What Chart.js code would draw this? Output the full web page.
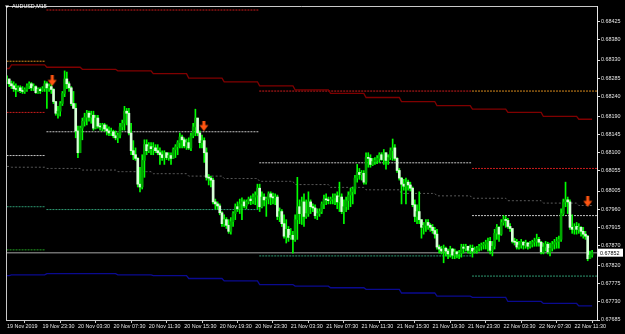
<!DOCTYPE html>
<html>
<head>
<meta charset="utf-8">
<title>AUDUSD,M15</title>
<script src="https://cdn.jsdelivr.net/npm/chart.js@4.4.1/dist/chart.umd.min.js"></script>
<style>
  html, body { margin: 0; padding: 0; background: #000; }
</style>
</head>
<body>
<canvas id="myChart" width="625" height="334"></canvas>

<script>

// --- axis labels ---
const xTickBars = [0, 16, 32, 48, 64, 80, 96, 112, 128, 144, 160, 176, 192, 208, 224, 240, 256];
const xTickLabels = ['19 Nov 2019', '19 Nov 23:30', '20 Nov 03:30', '20 Nov 07:30', '20 Nov 11:30', '20 Nov 15:30',
  '20 Nov 19:30', '20 Nov 23:30', '21 Nov 03:30', '21 Nov 07:30', '21 Nov 11:30', '21 Nov 15:30',
  '21 Nov 19:30', '21 Nov 23:30', '22 Nov 03:30', '22 Nov 07:30', '22 Nov 11:30'];
const yTickValues = [0.68425, 0.68380, 0.68330, 0.68285, 0.68240, 0.68190, 0.68145, 0.68100, 0.68055,
  0.68005, 0.67960, 0.67915, 0.67870, 0.67820, 0.67775, 0.67730, 0.67685];

// --- M15 candles (open = previous close) ---
const firstOpen = 0.68276;
const highs = [
  0.68291, 0.68283, 0.68278, 0.68276, 0.68271, 0.68266, 0.68266, 0.68264, 0.68261, 0.68271,
  0.68276, 0.68274, 0.68271, 0.68266, 0.68261, 0.68261, 0.68264, 0.68278, 0.68276, 0.68271,
  0.68271, 0.68259, 0.68227, 0.68215, 0.68227, 0.68252, 0.68303, 0.68300, 0.68276, 0.68264,
  0.68252, 0.68222, 0.68166, 0.68166, 0.68186, 0.68198, 0.68205, 0.68203, 0.68203, 0.68203,
  0.68193, 0.68193, 0.68173, 0.68173, 0.68173, 0.68169, 0.68164, 0.68161, 0.68156, 0.68154,
  0.68149, 0.68173, 0.68181, 0.68215, 0.68210, 0.68210, 0.68173, 0.68130, 0.68112, 0.68088,
  0.68064, 0.68095, 0.68132, 0.68132, 0.68125, 0.68125, 0.68125, 0.68120, 0.68120, 0.68112,
  0.68105, 0.68105, 0.68100, 0.68100, 0.68100, 0.68112, 0.68120, 0.68130, 0.68149, 0.68144,
  0.68137, 0.68134, 0.68137, 0.68149, 0.68173, 0.68208, 0.68178, 0.68154, 0.68144, 0.68137,
  0.68112, 0.68046, 0.68042, 0.68037, 0.67985, 0.67978, 0.67973, 0.67954, 0.67946, 0.67939,
  0.67934, 0.67939, 0.67954, 0.67973, 0.67978, 0.67985, 0.67988, 0.67983, 0.67983, 0.67990,
  0.67993, 0.67998, 0.68003, 0.68022, 0.68022, 0.68003, 0.67998, 0.67990, 0.68003, 0.68003,
  0.68000, 0.67998, 0.67995, 0.67963, 0.67959, 0.67946, 0.67934, 0.67917, 0.67912, 0.67905,
  0.67946, 0.68039, 0.67983, 0.67990, 0.67998, 0.67983, 0.68003, 0.67983, 0.67973, 0.67971,
  0.67961, 0.67961, 0.67978, 0.67995, 0.67998, 0.67990, 0.67990, 0.67998, 0.67998, 0.68003,
  0.68027, 0.67998, 0.67983, 0.67990, 0.68003, 0.68012, 0.68015, 0.68044, 0.68071, 0.68061,
  0.68056, 0.68056, 0.68100, 0.68100, 0.68095, 0.68086, 0.68088, 0.68093, 0.68100, 0.68100,
  0.68108, 0.68095, 0.68095, 0.68112, 0.68134, 0.68120, 0.68088, 0.68061, 0.68039, 0.68034,
  0.68037, 0.68032, 0.68027, 0.68015, 0.67983, 0.67971, 0.68003, 0.67934, 0.67927, 0.67934,
  0.67934, 0.67924, 0.67922, 0.67915, 0.67910, 0.67871, 0.67868, 0.67871, 0.67866, 0.67861,
  0.67868, 0.67863, 0.67861, 0.67856, 0.67858, 0.67873, 0.67873, 0.67873, 0.67868, 0.67871,
  0.67871, 0.67866, 0.67868, 0.67873, 0.67876, 0.67878, 0.67883, 0.67888, 0.67890, 0.67880,
  0.67910, 0.67922, 0.67917, 0.67934, 0.67944, 0.67942, 0.67937, 0.67924, 0.67912, 0.67888,
  0.67885, 0.67880, 0.67885, 0.67880, 0.67883, 0.67878, 0.67880, 0.67883, 0.67888, 0.67898,
  0.67890, 0.67880, 0.67876, 0.67880, 0.67878, 0.67876, 0.67880, 0.67885, 0.67890, 0.67893,
  0.67961, 0.67985, 0.68027, 0.67990, 0.67983, 0.67946, 0.67924, 0.67927, 0.67924, 0.67917,
  0.67915, 0.67905, 0.67895, 0.67856, 0.67858
];
const lows = [
  0.68271, 0.68264, 0.68259, 0.68252, 0.68239, 0.68252, 0.68249, 0.68247, 0.68247, 0.68252,
  0.68259, 0.68254, 0.68254, 0.68247, 0.68247, 0.68247, 0.68252, 0.68252, 0.68210, 0.68252,
  0.68247, 0.68222, 0.68193, 0.68186, 0.68191, 0.68217, 0.68239, 0.68259, 0.68252, 0.68217,
  0.68210, 0.68137, 0.68088, 0.68100, 0.68132, 0.68166, 0.68169, 0.68178, 0.68173, 0.68156,
  0.68159, 0.68161, 0.68156, 0.68154, 0.68154, 0.68144, 0.68142, 0.68142, 0.68137, 0.68132,
  0.68125, 0.68137, 0.68156, 0.68156, 0.68169, 0.68144, 0.68095, 0.68083, 0.68081, 0.68015,
  0.68003, 0.68010, 0.68039, 0.68095, 0.68100, 0.68095, 0.68095, 0.68100, 0.68095, 0.68071,
  0.68081, 0.68071, 0.68083, 0.68081, 0.68071, 0.68086, 0.68088, 0.68095, 0.68112, 0.68112,
  0.68112, 0.68108, 0.68108, 0.68105, 0.68137, 0.68142, 0.68142, 0.68112, 0.68112, 0.68076,
  0.68032, 0.68020, 0.68015, 0.67973, 0.67961, 0.67959, 0.67946, 0.67917, 0.67917, 0.67912,
  0.67900, 0.67898, 0.67917, 0.67934, 0.67954, 0.67949, 0.67934, 0.67963, 0.67961, 0.67973,
  0.67971, 0.67973, 0.67971, 0.67961, 0.67954, 0.67963, 0.67968, 0.67942, 0.67973, 0.67971,
  0.67973, 0.67971, 0.67934, 0.67929, 0.67917, 0.67888, 0.67876, 0.67880, 0.67885, 0.67851,
  0.67880, 0.67885, 0.67924, 0.67922, 0.67917, 0.67937, 0.67942, 0.67949, 0.67954, 0.67937,
  0.67934, 0.67942, 0.67949, 0.67961, 0.67971, 0.67973, 0.67973, 0.67973, 0.67971, 0.67961,
  0.67954, 0.67949, 0.67924, 0.67954, 0.67959, 0.67966, 0.67973, 0.67998, 0.68027, 0.68034,
  0.68032, 0.68022, 0.68022, 0.68064, 0.68064, 0.68068, 0.68071, 0.68073, 0.68076, 0.68081,
  0.68071, 0.68059, 0.68071, 0.68083, 0.68081, 0.68081, 0.68051, 0.68032, 0.67973, 0.68007,
  0.67973, 0.68007, 0.68005, 0.67966, 0.67929, 0.67924, 0.67924, 0.67888, 0.67898, 0.67905,
  0.67910, 0.67905, 0.67900, 0.67888, 0.67861, 0.67851, 0.67849, 0.67827, 0.67844, 0.67837,
  0.67841, 0.67837, 0.67837, 0.67839, 0.67837, 0.67841, 0.67851, 0.67856, 0.67851, 0.67849,
  0.67841, 0.67851, 0.67851, 0.67856, 0.67858, 0.67861, 0.67861, 0.67856, 0.67849, 0.67844,
  0.67861, 0.67885, 0.67880, 0.67895, 0.67920, 0.67915, 0.67912, 0.67905, 0.67876, 0.67871,
  0.67861, 0.67861, 0.67863, 0.67861, 0.67863, 0.67861, 0.67863, 0.67866, 0.67868, 0.67868,
  0.67868, 0.67849, 0.67849, 0.67856, 0.67849, 0.67844, 0.67856, 0.67861, 0.67863, 0.67863,
  0.67880, 0.67944, 0.67966, 0.67949, 0.67910, 0.67900, 0.67898, 0.67898, 0.67900, 0.67893,
  0.67888, 0.67885, 0.67832, 0.67837, 0.67841
];
const closes = [
  0.68283, 0.68271, 0.68266, 0.68259, 0.68257, 0.68261, 0.68254, 0.68252, 0.68257, 0.68266,
  0.68271, 0.68261, 0.68264, 0.68249, 0.68257, 0.68254, 0.68259, 0.68271, 0.68261, 0.68264,
  0.68257, 0.68227, 0.68198, 0.68203, 0.68222, 0.68247, 0.68283, 0.68271, 0.68261, 0.68222,
  0.68210, 0.68154, 0.68100, 0.68161, 0.68178, 0.68188, 0.68198, 0.68188, 0.68193, 0.68161,
  0.68186, 0.68166, 0.68164, 0.68169, 0.68159, 0.68154, 0.68149, 0.68152, 0.68142, 0.68137,
  0.68144, 0.68164, 0.68173, 0.68203, 0.68198, 0.68149, 0.68105, 0.68095, 0.68086, 0.68022,
  0.68015, 0.68081, 0.68120, 0.68105, 0.68115, 0.68110, 0.68112, 0.68105, 0.68100, 0.68095,
  0.68088, 0.68100, 0.68088, 0.68093, 0.68086, 0.68108, 0.68115, 0.68125, 0.68139, 0.68132,
  0.68117, 0.68125, 0.68112, 0.68142, 0.68164, 0.68186, 0.68149, 0.68125, 0.68130, 0.68100,
  0.68039, 0.68037, 0.68032, 0.67978, 0.67973, 0.67968, 0.67951, 0.67924, 0.67934, 0.67920,
  0.67905, 0.67929, 0.67949, 0.67966, 0.67961, 0.67973, 0.67978, 0.67968, 0.67978, 0.67985,
  0.67981, 0.67990, 0.67995, 0.68012, 0.67966, 0.67990, 0.67983, 0.67985, 0.67998, 0.67990,
  0.67988, 0.67990, 0.67942, 0.67954, 0.67924, 0.67893, 0.67910, 0.67890, 0.67895, 0.67885,
  0.67934, 0.67966, 0.67949, 0.67978, 0.67942, 0.67949, 0.67978, 0.67966, 0.67963, 0.67944,
  0.67949, 0.67954, 0.67973, 0.67985, 0.67983, 0.67981, 0.67985, 0.67988, 0.67993, 0.67978,
  0.67990, 0.67954, 0.67966, 0.67981, 0.67995, 0.68003, 0.68010, 0.68037, 0.68051, 0.68046,
  0.68049, 0.68027, 0.68088, 0.68086, 0.68071, 0.68078, 0.68081, 0.68086, 0.68095, 0.68083,
  0.68100, 0.68081, 0.68088, 0.68105, 0.68112, 0.68086, 0.68056, 0.68037, 0.68022, 0.68017,
  0.68027, 0.68020, 0.68012, 0.67971, 0.67942, 0.67954, 0.67934, 0.67915, 0.67920, 0.67927,
  0.67920, 0.67915, 0.67907, 0.67898, 0.67866, 0.67861, 0.67856, 0.67863, 0.67856, 0.67849,
  0.67861, 0.67846, 0.67854, 0.67849, 0.67851, 0.67866, 0.67863, 0.67868, 0.67858, 0.67863,
  0.67856, 0.67858, 0.67863, 0.67868, 0.67871, 0.67873, 0.67878, 0.67880, 0.67858, 0.67868,
  0.67900, 0.67915, 0.67898, 0.67927, 0.67934, 0.67932, 0.67917, 0.67912, 0.67880, 0.67878,
  0.67866, 0.67871, 0.67878, 0.67871, 0.67876, 0.67868, 0.67873, 0.67878, 0.67880, 0.67885,
  0.67878, 0.67854, 0.67866, 0.67873, 0.67854, 0.67863, 0.67873, 0.67878, 0.67880, 0.67885,
  0.67949, 0.67978, 0.67983, 0.67978, 0.67915, 0.67910, 0.67917, 0.67910, 0.67915, 0.67905,
  0.67898, 0.67893, 0.67837, 0.67846, 0.67852
];

// --- daily pivot levels (one value per day, null = off screen) ---
const dayStartBars = [0, 18, 114, 210];
const pivotR2 = [0.68327, null, null, 0.68253];
const pivotR1 = [0.68200, 0.68454, 0.68253, 0.68061];
const pivotPP = [0.68093, 0.68152, 0.68075, 0.67944];
const pivotS1 = [0.67966, 0.67959, 0.67844, 0.67794];
const pivotS2 = [0.67859, null, null, null];

// --- 4-hour channel (value per H4 block) ---
const h4StartBars = [0, 2, 18, 34, 50, 66, 82, 98, 114, 130, 146, 162, 178, 194, 210, 226, 242, 258];
const upperBand = [0.68309, 0.68318, 0.68312, 0.68307, 0.68303, 0.68296, 0.68285, 0.68276, 0.68266,
  0.68256, 0.68247, 0.68237, 0.68227, 0.68217, 0.68208, 0.68200, 0.68190, 0.68183];
const middleBand = [0.68066, 0.68064, 0.68061, 0.68057, 0.68053, 0.68048, 0.68042, 0.68036, 0.68029,
  0.68021, 0.68014, 0.68008, 0.67999, 0.67993, 0.67987, 0.67981, 0.67975, 0.67969];
const lowerBand = [0.67795, 0.67797, 0.67800, 0.67800, 0.67797, 0.67795, 0.67788, 0.67782, 0.67773,
  0.67769, 0.67765, 0.67761, 0.67752, 0.67744, 0.67741, 0.67731, 0.67726, 0.67720];

// --- sell arrows ---
const arrowBars = [20.4, 88.8, 262];
const arrowPrices = [0.68278, 0.68166, 0.67978];

const xMin = -0.45, xMax = 266.2;
const yMin = 0.67685, yMax = 0.68464;
const FONT = 'Liberation Sans';

// build candles
const wicks = [], bodies = [], bodyColors = [];
for (let i = 0; i < closes.length; i++) {
  const o = i ? closes[i - 1] : firstOpen;
  const c = closes[i];
  wicks.push({x: i, y: [Math.min(lows[i], o, c), Math.max(highs[i], o, c)]});
  bodies.push({x: i, y: [o, c]});
  bodyColors.push(c >= o ? '#00a800' : '#d8ffd8');
}
const lastPrice = closes[closes.length - 1];

function blockSeries(values) {
  let pts = [];
  let b = 0;
  for (let i = 0; i < closes.length; i++) {
    while (b + 1 < h4StartBars.length && i >= h4StartBars[b + 1]) b++;
    pts.push({x: i, y: values[b]});
  }
  return pts;
}

function levelSets(prices, color) {
  let sets = [];
  prices.forEach((p, d) => {
    if (p === null) return;
    const from = dayStartBars[d] - 0.2;
    const to = d + 1 < dayStartBars.length ? dayStartBars[d + 1] - 0.6 : xMax;
    sets.push({
      type: 'line', order: 5, data: [{x: from, y: p}, {x: to, y: p}],
      borderColor: color, borderWidth: 1, borderDash: [2, 1], pointRadius: 0
    });
  });
  return sets;
}

function makeArrow() {
  const c = document.createElement('canvas');
  c.width = 10; c.height = 11;
  const g = c.getContext('2d');
  g.fillStyle = '#ff5511';
  g.fillRect(3.5, 0, 3, 6);
  g.beginPath();
  g.moveTo(0.5, 4.5); g.lineTo(9.5, 4.5); g.lineTo(5, 10.5);
  g.closePath(); g.fill();
  return c;
}

const frame = {
  id: 'frame',
  beforeDraw(chart) {
    const ctx = chart.ctx;
    ctx.save();
    ctx.fillStyle = '#000';
    ctx.fillRect(0, 0, chart.width, chart.height);
    ctx.restore();
  },
  afterDraw(chart) {
    const {ctx, chartArea: a} = chart;
    const y = chart.scales.y;
    ctx.save();
    ctx.strokeStyle = '#c8c8c8';
    ctx.lineWidth = 1;
    ctx.beginPath();
    ctx.moveTo(a.left + 0.5, a.bottom);
    ctx.lineTo(a.left + 0.5, a.top + 0.5);
    ctx.lineTo(a.right, a.top + 0.5);
    ctx.stroke();

    // symbol title
    ctx.fillStyle = '#fff';
    ctx.beginPath();
    ctx.moveTo(5, 5.5); ctx.lineTo(9, 5.5); ctx.lineTo(7, 8);
    ctx.closePath(); ctx.fill();
    ctx.font = '5.4px "' + FONT + '"';
    ctx.textBaseline = 'middle';
    ctx.fillText('AUDUSD,M15', 12, 7);

    // current price box
    const py = y.getPixelForValue(lastPrice);
    ctx.fillStyle = '#fff';
    ctx.fillRect(a.right + 1, py - 4, 25, 8);
    ctx.fillStyle = '#000';
    ctx.fillText(lastPrice.toFixed(5), a.right + 3, py + 0.5);
    ctx.restore();
  }
};

const datasets = [
  {
    type: 'line', label: 'arrows', order: 0,
    data: arrowBars.map((b, k) => ({x: b, y: arrowPrices[k]})),
    showLine: false, pointStyle: makeArrow(), pointRadius: 5
  },
  {
    type: 'bar', label: 'bodies', order: 1, grouped: false,
    data: bodies, backgroundColor: bodyColors, barThickness: 2, minBarLength: 1
  },
  {
    type: 'bar', label: 'wicks', order: 2, grouped: false,
    data: wicks, backgroundColor: '#00ff00', barThickness: 1
  },
  {
    type: 'line', order: 4, data: [{x: xMin, y: lastPrice}, {x: xMax, y: lastPrice}],
    borderColor: '#6e6e6e', borderWidth: 1.6, pointRadius: 0
  },
  {
    type: 'line', order: 4, data: blockSeries(upperBand),
    borderColor: '#800000', borderWidth: 1.3, pointRadius: 0
  },
  {
    type: 'line', order: 4, data: blockSeries(middleBand),
    borderColor: '#5c5c5c', borderWidth: 1, borderDash: [2, 2], pointRadius: 0
  },
  {
    type: 'line', order: 4, data: blockSeries(lowerBand),
    borderColor: '#0a0a90', borderWidth: 1.3, pointRadius: 0
  },
  ...levelSets(pivotR2, '#d98a1c'),
  ...levelSets(pivotR1, '#cc1c1c'),
  ...levelSets(pivotPP, '#c4c4c4'),
  ...levelSets(pivotS1, '#2e9a72'),
  ...levelSets(pivotS2, '#22a022')
];

const config = {
  type: 'bar',
  data: { datasets },
  options: {
    responsive: false,
    animation: false,
    layout: { padding: { left: 2, top: 1, right: 0, bottom: 0 } },
    plugins: { legend: { display: false }, tooltip: { enabled: false } },
    scales: {
      x: {
        type: 'linear', min: xMin, max: xMax, offset: false,
        grid: { drawOnChartArea: false, tickLength: 3, tickColor: '#c8c8c8' },
        border: { display: true, color: '#c8c8c8' },
        afterBuildTicks: s => { s.ticks = xTickBars.map(v => ({value: v})); },
        afterFit: s => { s.height = 14; },
        ticks: {
          autoSkip: false, maxRotation: 0, align: 'start', padding: 0,
          color: '#e6e6e6', font: { family: FONT, size: 5.4 },
          callback: v => xTickLabels[xTickBars.indexOf(v)]
        }
      },
      y: {
        type: 'linear', position: 'right', min: yMin, max: yMax,
        grid: { drawOnChartArea: false, tickLength: 3, tickColor: '#e0e0e0' },
        border: { display: true, color: '#e8e8e8' },
        afterBuildTicks: s => { s.ticks = yTickValues.map(v => ({value: v})); },
        afterFit: s => { s.width = 28; },
        ticks: {
          padding: 1, color: '#e6e6e6', font: { family: FONT, size: 5.4 },
          callback: v => v.toFixed(5)
        }
      }
    }
  },
  plugins: [frame]
};

var myChart = new Chart(
  document.getElementById('myChart'),
  config
);

</script>
</body>
</html>
